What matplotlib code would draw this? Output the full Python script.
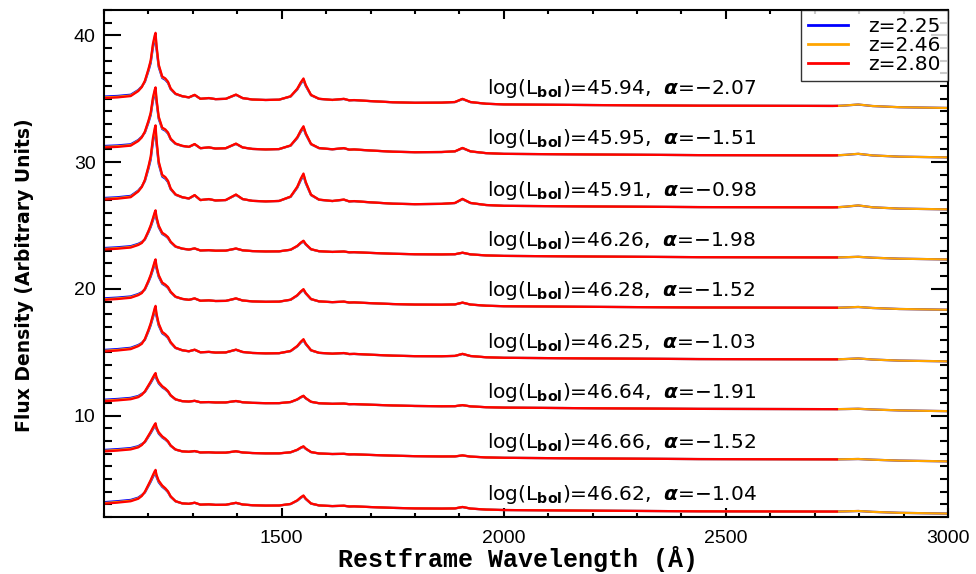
import numpy as np
import matplotlib
matplotlib.use('Agg')
import matplotlib.pyplot as plt
from matplotlib.ticker import MultipleLocator, FixedLocator

plt.rcParams['font.family'] = ['Liberation Sans', 'DejaVu Sans']
plt.rcParams['mathtext.fontset'] = 'custom'
plt.rcParams['mathtext.rm'] = 'DejaVu Sans'
plt.rcParams['mathtext.bf'] = 'DejaVu Sans:bold'
plt.rcParams['mathtext.it'] = 'DejaVu Sans:italic:bold'

# restframe wavelength knots (A)
knot_wave = [1100, 1130, 1160, 1177, 1185, 1192, 1200, 1205, 1210, 1214, 1216, 1218,
             1223, 1231, 1238, 1244, 1250, 1261, 1276, 1291, 1304, 1317, 1336, 1351,
             1374, 1397, 1412, 1434, 1464, 1494, 1520, 1535, 1543, 1549, 1554, 1566,
             1584, 1614, 1640, 1652, 1663, 1700, 1750, 1800, 1860, 1890, 1907, 1925,
             1960, 2000, 2200, 2440, 2740, 2750, 2770, 2798, 2830, 2890, 3000]

# continuum drift relative to the flux at 1100 A
cont_shape = [0.0, 0.0, 0.0, -0.02, -0.02, -0.03, -0.04, -0.04, -0.05, -0.05, -0.05, -0.05,
              -0.05, -0.06, -0.06, -0.06, -0.07, -0.07, -0.08, -0.08, -0.09, -0.09, -0.10, -0.10,
              -0.11, -0.12, -0.12, -0.13, -0.15, -0.16, -0.17, -0.18, -0.18, -0.19, -0.19, -0.20,
              -0.21, -0.23, -0.25, -0.26, -0.26, -0.29, -0.33, -0.37, -0.41, -0.43, -0.44, -0.45,
              -0.48, -0.50, -0.55, -0.60, -0.62, -0.625, -0.63, -0.64, -0.66, -0.72, -0.78]

# Lya + NV profile (peak = 1) for the three luminosity groups
lya_low = [0.0, 0.01, 0.03, 0.11, 0.17, 0.27, 0.45, 0.58, 0.83, 0.96, 1.0, 0.82,
           0.52, 0.34, 0.31, 0.26, 0.16, 0.08, 0.045, 0.02, 0.01, 0, 0, 0,
           0, 0, 0, 0, 0, 0, 0, 0, 0, 0, 0, 0,
           0, 0, 0, 0, 0, 0, 0, 0, 0, 0, 0, 0,
           0, 0, 0, 0, 0, 0, 0, 0, 0, 0, 0]
lya_mid = [0.0, 0.02, 0.05, 0.12, 0.17, 0.28, 0.48, 0.62, 0.80, 0.95, 1.0, 0.84,
           0.62, 0.44, 0.39, 0.33, 0.22, 0.10, 0.05, 0.02, 0.01, 0, 0, 0,
           0, 0, 0, 0, 0, 0, 0, 0, 0, 0, 0, 0,
           0, 0, 0, 0, 0, 0, 0, 0, 0, 0, 0, 0,
           0, 0, 0, 0, 0, 0, 0, 0, 0, 0, 0]
lya_high = [0.0, 0.03, 0.07, 0.15, 0.23, 0.36, 0.57, 0.70, 0.85, 0.96, 1.0, 0.86,
            0.69, 0.55, 0.47, 0.38, 0.24, 0.10, 0.04, 0.02, 0.01, 0, 0, 0,
            0, 0, 0, 0, 0, 0, 0, 0, 0, 0, 0, 0,
            0, 0, 0, 0, 0, 0, 0, 0, 0, 0, 0, 0,
            0, 0, 0, 0, 0, 0, 0, 0, 0, 0, 0]

# metal lines (OI, CII, SiIV, CIV, HeII, CIII], MgII), CIV peak = 1
metal_shape = [0, 0, 0, 0, 0, 0, 0, 0, 0, 0, 0, 0,
               0, 0, 0, 0, 0, 0, 0, 0.02, 0.17, 0.02, 0.06, 0.01,
               0.03, 0.23, 0.07, 0.01, 0.0, 0.02, 0.18, 0.53, 0.82, 1.0, 0.71, 0.26,
               0.09, 0.05, 0.11, 0.05, 0.06, 0.03, 0.0, 0.0, 0.03, 0.07, 0.22, 0.08,
               0.02, 0.0, 0.0, 0.0, 0.0, 0.005, 0.03, 0.08, 0.02, 0.0, 0.0]

base_flux = [35.05, 31.15, 27.05, 23.1, 19.13, 15.06, 11.13, 7.17, 3.05]
lya_amp = [5.2, 4.8, 5.9, 3.15, 3.25, 3.65, 2.28, 2.28, 2.72]
civ_amp = [1.74, 1.87, 2.24, 0.89, 1.04, 1.16, 0.63, 0.60, 0.84]
lum_group = [0, 0, 0, 1, 1, 1, 2, 2, 2]
log_lbol = ['45.94', '45.95', '45.91', '46.26', '46.28', '46.25', '46.64', '46.66', '46.62']
alpha = ['2.07', '1.51', '0.98', '1.98', '1.52', '1.03', '1.91', '1.52', '1.04']

redshifts = ['2.25', '2.46', '2.80']
colors = ['blue', 'orange', 'red']
line_scale = [0.93, 0.97, 1.0]
forest_lift = [0.12, 0.05, 0.0]
wave_max = [3000, 3000, 2750]

wave = np.array(knot_wave, dtype=float)
cont = np.array(cont_shape)
lya_shapes = [np.array(lya_low), np.array(lya_mid), np.array(lya_high)]
metal = np.array(metal_shape)

fig = plt.figure(figsize=(9.76, 5.74), dpi=100)
ax = fig.add_axes([0.1066, 0.0993, 0.8647, 0.8833])

for i in range(len(base_flux)):
    for c in range(len(colors)):
        flux = (base_flux[i] + cont + forest_lift[c] * (wave <= 1185)
                + line_scale[c] * (lya_amp[i] * lya_shapes[lum_group[i]] + civ_amp[i] * metal))
        keep = wave <= wave_max[c]
        ax.plot(wave[keep], flux[keep], color=colors[c], lw=1.6,
                label='z=' + redshifts[c] if i == 0 else None)
    ax.text(1963, base_flux[i] + 0.72,
            r'log(L$_{\mathbf{bol}}$)=' + log_lbol[i] + r',  $\alpha$=$-$' + alpha[i],
            fontsize=14.5, va='center', ha='left', family='DejaVu Sans')

ax.set_xlim(1100, 3000)
ax.set_ylim(2, 42)
ax.xaxis.set_major_locator(FixedLocator([1500, 2000, 2500, 3000]))
ax.xaxis.set_minor_locator(MultipleLocator(100))
ax.yaxis.set_major_locator(FixedLocator([10, 20, 30, 40]))
ax.yaxis.set_minor_locator(MultipleLocator(1))
ax.tick_params(axis='both', which='both', direction='in', top=True, right=True,
               width=1.5, labelsize=14)
ax.tick_params(axis='x', which='major', length=6.5, pad=9)
ax.tick_params(axis='x', which='minor', length=3.2)
ax.tick_params(axis='y', which='major', length=12.5, pad=6)
ax.tick_params(axis='y', which='minor', length=6)
for sp in ax.spines.values():
    sp.set_linewidth(1.5)

ax.set_xlabel('Restframe Wavelength (Å)', fontsize=18, fontweight='bold',
              family='Liberation Mono')
ax.xaxis.set_label_coords(0.49, -0.057)
ax.set_ylabel('Flux Density (Arbitrary Units)', fontsize=13.5, fontweight='bold',
              family='DejaVu Sans')
ax.yaxis.set_label_coords(-0.083, 0.477)

leg = ax.legend(loc='upper right', prop={'family': 'DejaVu Sans', 'size': 14.5},
                frameon=True, fancybox=False, edgecolor='black', borderaxespad=0,
                handlelength=2.0, handletextpad=1.0, labelspacing=0.0, borderpad=0.35)
leg.get_frame().set_linewidth(1.0)
for h in leg.get_lines():
    h.set_linewidth(2)

fig.savefig('out.png', dpi=100)
